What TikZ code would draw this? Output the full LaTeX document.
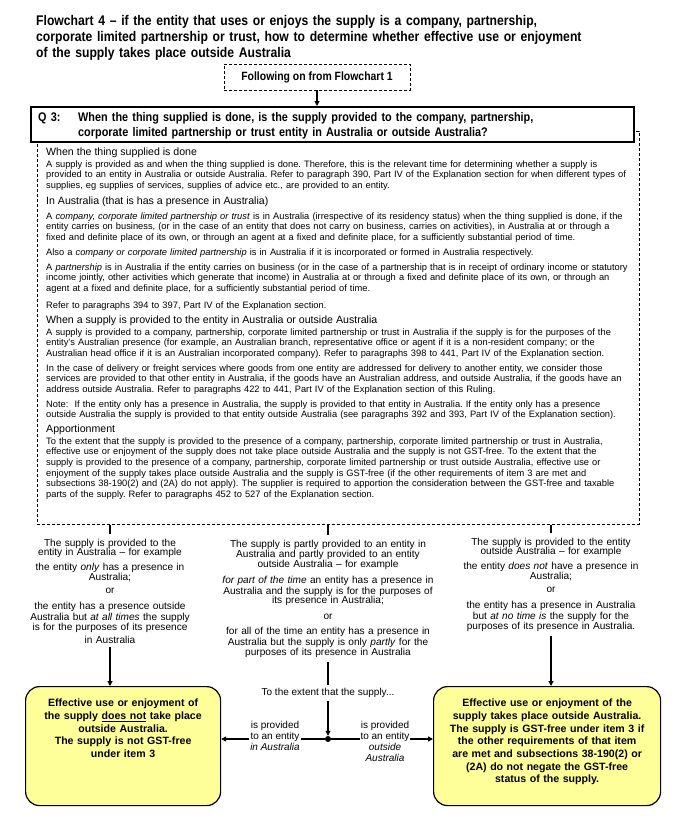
\documentclass[tikz,border=0pt]{standalone}
\usepackage{fontspec}
\setmainfont{Liberation Sans}
\newfontfamily\narrowsans[FakeStretch=0.87]{Liberation Sans}
\usetikzlibrary{arrows.meta,positioning}
\definecolor{resultbg}{RGB}{255,255,153}
\frenchspacing

\begin{document}
\begin{tikzpicture}[x=1pt, y=-1pt,
  ttl/.style={anchor=base west, inner sep=0pt, text width=640pt, align=left,
              font={\narrowsans\bfseries\fontsize{14}{16}\selectfont}},
  dashbox/.style={draw, dash pattern=on 3pt off 2pt, line width=0.7pt, inner sep=0pt},
  qbox/.style={draw, line width=1.6pt, fill=white, inner sep=0pt},
  qtxt/.style={anchor=base west, inner sep=0pt, text width=560pt, align=left,
               font={\narrowsans\bfseries\fontsize{12.5}{15}\selectfont}},
  head/.style={anchor=base west, inner sep=0pt, font={\fontsize{10.6}{12}\selectfont}},
  para/.style={anchor=base west, inner sep=0pt, text width=615pt, align=left,
               font={\fontsize{9.3}{10.7}\selectfont}},
  col/.style={anchor=base, inner xsep=0pt, inner ysep=4pt, text width=230pt, align=center,
              font={\fontsize{10.1}{10.5}\selectfont}},
  res/.style={draw, line width=1.2pt, rounded corners=14pt, fill=resultbg, inner sep=0pt,
              anchor=north west, align=center, text height=20pt, text depth=99pt,
              font={\bfseries\fontsize{10.6}{12.7}\selectfont}},
  lbl/.style={fill=white, inner sep=1pt, align=center, font={\fontsize{10}{11}\selectfont}},
  arr/.style={-{Triangle[length=5pt,width=5pt]}, line width=1.1pt},
  ln/.style={line width=1.1pt}]
  \useasboundingbox (0,0) rectangle (686,822);

  % heading and start of the chart
  \node[ttl] (title) at (36,25) {Flowchart 4 – if the entity that uses or enjoys the supply is a company, partnership,\\
    corporate limited partnership or trust, how to determine whether effective use or enjoyment\\
    of the supply takes place outside Australia};
  \node[dashbox, minimum width=186pt, minimum height=26pt,
        font={\narrowsans\bfseries\fontsize{12}{14}\selectfont}] (follow) at (317,77) {Following on from Flowchart 1};

  % explanatory notes behind the question
  \node[dashbox, anchor=north west, minimum width=602pt, minimum height=393pt] (notes) at (37,131) {};
  \node[qbox, anchor=north west, minimum width=603pt, minimum height=35pt] (q3) at (30,106) {};
  \node[qtxt, text width=40pt] (qnum) at (38,121) {Q 3:};
  \node[qtxt] (qtext) at (78,121) {When the thing supplied is done, is the supply provided to the company, partnership,\\
    corporate limited partnership or trust entity in Australia or outside Australia?};
  \draw[arr] (follow.south) -- (follow.south |- q3.north);

  \node[head] (h1) at (46,155) {When the thing supplied is done};
  \node[para] (p1) at (46,167) {A supply is provided as and when the thing supplied is done. Therefore, this is the relevant time for determining whether a supply is\\
    provided to an entity in Australia or outside Australia. Refer to paragraph 390, Part IV of the Explanation section for when different types of\\
    supplies, eg supplies of services, supplies of advice etc., are provided to an entity.};
  \node[head] (h2) at (46,204) {In Australia (that is has a presence in Australia)};
  \node[para] (p2) at (46,219) {A \textit{company, corporate limited partnership or trust} is in Australia (irrespective of its residency status) when the thing supplied is done, if the\\
    entity carries on business, (or in the case of an entity that does not carry on business, carries on activities), in Australia at or through a\\
    fixed and definite place of its own, or through an agent at a fixed and definite place, for a sufficiently substantial period of time.};
  \node[para] (p3) at (46,255) {Also a \textit{company or corporate limited partnership} is in Australia if it is incorporated or formed in Australia respectively.};
  \node[para] (p4) at (46,270) {A \textit{partnership} is in Australia if the entity carries on business (or in the case of a partnership that is in receipt of ordinary income or statutory\\
    income jointly, other activities which generate that income) in Australia at or through a fixed and definite place of its own, or through an\\
    agent at a fixed and definite place, for a sufficiently substantial period of time.};
  \node[para] (p5) at (46,308) {Refer to paragraphs 394 to 397, Part IV of the Explanation section.};
  \node[head] (h3) at (46,323) {When a supply is provided to the entity in Australia or outside Australia};
  \node[para] (p6) at (46,335) {A supply is provided to a company, partnership, corporate limited partnership or trust in Australia if the supply is for the purposes of the\\
    entity's Australian presence (for example, an Australian branch, representative office or agent if it is a non-resident company; or the\\
    Australian head office if it is an Australian incorporated company). Refer to paragraphs 398 to 441, Part IV of the Explanation section.};
  \node[para] (p7) at (46,371) {In the case of delivery or freight services where goods from one entity are addressed for delivery to another entity, we consider those\\
    services are provided to that other entity in Australia, if the goods have an Australian address, and outside Australia, if the goods have an\\
    address outside Australia. Refer to paragraphs 422 to 441, Part IV of the Explanation section of this Ruling.};
  \node[para] (p8) at (46,407) {Note:\ \ If the entity only has a presence in Australia, the supply is provided to that entity in Australia. If the entity only has a presence\\
    outside Australia the supply is provided to that entity outside Australia (see paragraphs 392 and 393, Part IV of the Explanation section).};
  \node[head] (h4) at (46,432) {Apportionment};
  \node[para] (p9) at (46,444) {To the extent that the supply is provided to the presence of a company, partnership, corporate limited partnership or trust in Australia,\\
    effective use or enjoyment of the supply does not take place outside Australia and the supply is not GST-free. To the extent that the\\
    supply is provided to the presence of a company, partnership, corporate limited partnership or trust outside Australia, effective use or\\
    enjoyment of the supply takes place outside Australia and the supply is GST-free (if the other requirements of item 3 are met and\\
    subsections 38-190(2) and (2A) do not apply). The supplier is required to apportion the consideration between the GST-free and taxable\\
    parts of the supply. Refer to paragraphs 452 to 527 of the Explanation section.};

  % the three answers
  \node[col] (colA) at (110,546) {The supply is provided to the\\[-1pt] entity in Australia – for example\\[4pt]
    the entity \textit{only} has a presence in\\ Australia;\\[2pt] or\\[6pt]
    the entity has a presence outside\\ Australia but \textit{at all times} the supply\\ is for the purposes of its presence\\[2pt] in Australia};
  \node[col] (colB) at (328,547) {The supply is partly provided to an entity in\\ Australia and partly provided to an entity\\[-1pt] outside Australia – for example\\[6pt]
    \textit{for part of the time} an entity has a presence in\\ Australia and the supply is for the purposes of\\[-1pt] its presence in Australia;\\[5pt] or\\[5pt]
    for all of the time an entity has a presence in\\ Australia but the supply is only \textit{partly} for the\\ purposes of its presence in Australia};
  \node[col] (colC) at (551,545) {The supply is provided to the entity\\[-1pt] outside Australia – for example\\[4pt]
    the entity \textit{does not} have a presence in\\ Australia;\\[2pt] or\\[6pt]
    the entity has a presence in Australia\\ but \textit{at no time is} the supply for the\\ purposes of its presence in Australia.};
  \draw[ln] (notes.south -| colA) -- (colA.north);
  \draw[ln] (notes.south -| colB) -- (colB.north);
  \draw[ln] (notes.south -| colC) -- (colC.north);

  % outcomes
  \node[res, text width=195pt] (boxA) at (25,686) {Effective use or enjoyment of\\ the supply \underline{does not} take place\\ outside Australia.\\
    The supply is not GST-free\\ under item 3};
  \node[res, text width=227pt] (boxC) at (433,686) {Effective use or enjoyment of the\\ supply takes place outside Australia.\\
    The supply is GST-free under item 3 if\\ the other requirements of that item\\ are met and subsections 38-190(2) or\\
    (2A) do not negate the GST-free\\ status of the supply.};
  \draw[arr] (colA.south) -- (colA.south |- boxA.north);
  \draw[arr] (colC.south) -- (colC.south |- boxC.north);

  \node[font={\fontsize{10}{12}\selectfont}] (extent) at (328,693) {To the extent that the supply...};
  \node[circle, fill, inner sep=0pt, minimum size=6pt] (dot) at (328,739) {};
  \draw[ln] (colB.south) -- (extent.north);
  \draw[arr] (extent.south) -- (dot);
  \draw[arr] (dot) -- (boxA.east |- dot);
  \draw[arr] (dot) -- (boxC.west |- dot);
  \node[lbl] (inAus) at (275,736) {is provided\\ to an entity\\ \textit{in Australia}};
  \node[lbl] (outAus) at (385,741) {is provided\\ to an entity\\ \textit{outside}\\ \textit{Australia}};
\end{tikzpicture}
\end{document}
